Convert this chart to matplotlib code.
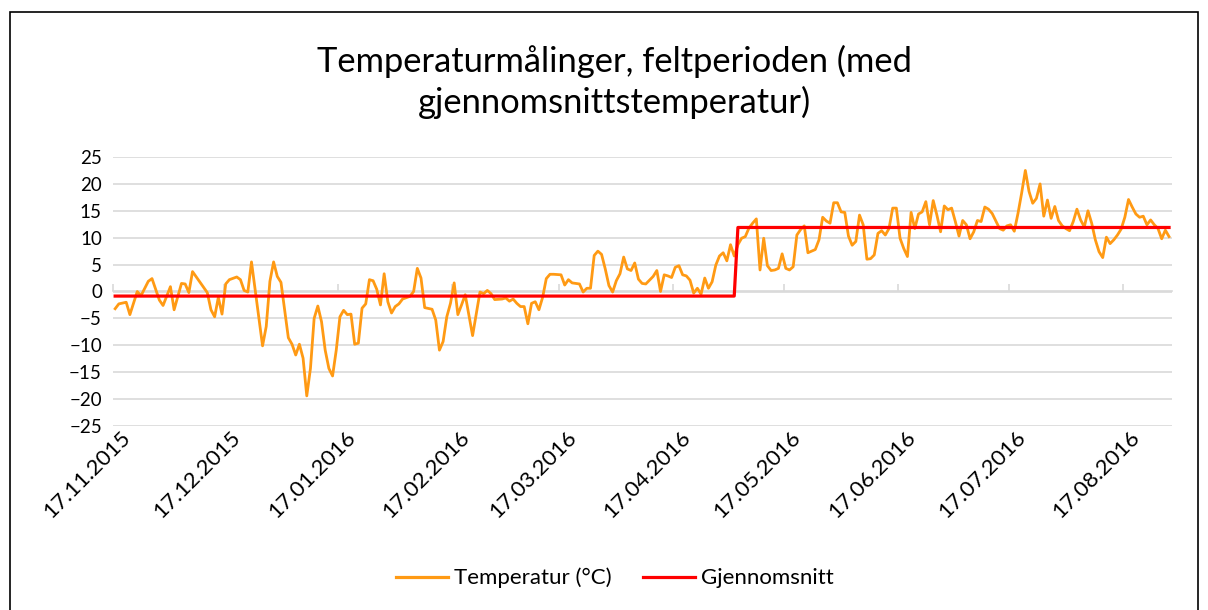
import matplotlib
matplotlib.use("Agg")
import matplotlib.pyplot as plt
import matplotlib.dates as mdates
from matplotlib.patches import Rectangle
from matplotlib.lines import Line2D
from matplotlib.transforms import ScaledTranslation
import pandas as pd
import numpy as np

plt.rcParams['font.family'] = ['Lato', 'DejaVu Sans']

start = pd.Timestamp('2015-11-17')

# day offsets from 17.11.2015 and temperature readings (vertices)
days = [0, 1, 3, 4, 6, 7, 9, 10, 12, 13, 15, 16, 18, 19, 20, 21, 24, 25, 26, 27,
        28, 29, 30, 31, 33, 34, 35, 36, 37, 40, 41, 42, 43, 44, 45, 47, 48, 49, 50, 51,
        52, 53, 54, 55, 56, 57, 58, 59, 60, 61, 62, 63, 64, 65, 66, 67, 68, 69, 70, 71,
        72, 73, 74, 75, 76, 77, 78, 80, 81, 82, 83, 84, 86, 87, 88, 89, 90, 91, 92, 93,
        94, 95, 97, 99, 100, 101, 102, 103, 105, 106, 107, 108, 109, 110, 111, 112, 113, 114, 115, 116,
        117, 118, 119, 121, 122, 123, 124, 126, 127, 128, 129, 130, 131, 132, 133, 134, 135, 136, 137, 138,
        139, 140, 141, 142, 143, 144, 146, 147, 148, 149, 150, 151, 152, 153, 154, 155, 156, 157, 158, 159,
        160, 161, 162, 163, 164, 165, 166, 167, 168, 169, 170, 171, 172, 173, 174, 175, 176, 177, 178, 179,
        180, 181, 182, 183, 184, 185, 186, 187, 188, 189, 190, 191, 192, 193, 194, 195, 196, 197, 198, 199,
        200, 201, 202, 203, 204, 205, 206, 207, 208, 209, 210, 211, 212, 213, 214, 215, 216, 217, 218, 219,
        220, 221, 222, 223, 224, 225, 226, 227, 228, 229, 230, 231, 232, 233, 234, 235, 236, 237, 238, 240,
        241, 242, 243, 244, 245, 246, 247, 248, 249, 250, 251, 252, 253, 254, 255, 256, 257, 258, 259, 260,
        261, 262, 263, 264, 265, 266, 267, 268, 269, 270, 271, 272, 273, 274, 275, 276, 277, 278, 279, 280,
        281, 282, 283, 284, 285, 286]
temps = [-3.2, -2.3, -2.0, -4.3, 0.0, -0.8, 1.9, 2.4, -1.6, -2.6, 0.9, -3.4, 1.5, 1.4, -0.2, 3.7, 0.8, -0.2, -3.4, -4.7,
         -1.1, -4.2, 1.4, 2.2, 2.7, 2.2, 0.2, -0.1, 5.5, -10.1, -6.5, 1.9, 5.5, 2.8, 1.7, -8.6, -9.8, -11.8, -9.8, -12.4,
         -19.4, -14.3, -5.0, -2.7, -5.6, -10.9, -14.3, -15.7, -10.9, -4.7, -3.5, -4.3, -4.2, -9.8, -9.6, -3.1, -2.3, 2.2, 2.0, 0.4,
         -2.5, 3.3, -1.9, -4.0, -2.8, -2.3, -1.4, -0.9, 0.0, 4.3, 2.5, -3.0, -3.3, -5.3, -10.9, -9.3, -4.7, -2.2, 1.6, -4.3,
         -2.5, -0.6, -8.2, -0.1, -0.4, 0.2, -0.4, -1.5, -1.4, -1.2, -1.8, -1.4, -2.2, -2.8, -2.8, -6.0, -2.2, -1.9, -3.4, -1.1,
         2.4, 3.2, 3.2, 3.1, 1.2, 2.2, 1.6, 1.4, -0.1, 0.6, 0.6, 6.7, 7.5, 6.9, 4.2, 1.1, -0.1, 2.0, 3.3, 6.4,
         4.2, 3.9, 5.3, 2.3, 1.5, 1.4, 2.8, 3.9, 0.0, 3.1, 2.9, 2.6, 4.5, 4.8, 3.1, 2.9, 2.1, -0.3, 0.6, -0.5,
         2.5, 0.6, 1.8, 4.9, 6.6, 7.2, 5.7, 8.7, 6.6, 8.7, 9.9, 10.2, 11.8, 12.7, 13.5, 4.0, 9.9, 4.8, 3.9, 4.0,
         4.3, 7.0, 4.3, 4.0, 4.6, 10.5, 11.5, 12.2, 7.2, 7.5, 7.8, 9.6, 13.8, 13.1, 12.7, 16.5, 16.5, 14.8, 14.7, 10.3,
         8.6, 9.3, 14.2, 12.4, 6.0, 6.1, 6.8, 10.8, 11.3, 10.5, 11.7, 15.5, 15.5, 9.9, 8.0, 6.5, 14.7, 11.7, 14.4, 14.8,
         16.7, 12.4, 16.9, 14.2, 11.1, 15.9, 15.2, 15.5, 13.0, 10.3, 13.2, 12.4, 9.8, 11.1, 13.2, 13.0, 15.7, 15.3, 14.5, 11.7,
         11.4, 12.2, 12.4, 11.2, 14.5, 18.3, 22.5, 18.6, 16.4, 17.3, 20.0, 14.0, 17.0, 13.6, 15.8, 13.2, 12.2, 11.7, 11.3, 13.0,
         15.3, 13.3, 12.0, 15.0, 12.7, 9.6, 7.4, 6.3, 10.1, 8.9, 9.6, 10.5, 11.6, 13.8, 17.1, 15.7, 14.4, 13.8, 14.0, 12.4,
         13.3, 12.4, 11.7, 9.8, 11.4, 10.2]

# average temperature per period (first/last day offset, mean)
avg_start = [0, 169]
avg_end = [168, 286]
avg_value = [-0.85, 11.9]

tick_dates = pd.date_range('2015-11-17', periods=10, freq=pd.DateOffset(months=1))

orange = '#FF9A14'
red = '#FF0000'
grid = '#D9D9D9'

half = pd.Timedelta(hours=12)
t_dates = start + pd.to_timedelta(days, unit='D') + half
a_days = []
a_vals = []
for s, e, v in zip(avg_start, avg_end, avg_value):
    a_days += [s, e]
    a_vals += [v, v]
a_dates = start + pd.to_timedelta(a_days, unit='D') + half

fig = plt.figure(figsize=(12.08, 6.10), dpi=100)
ax = fig.add_axes([113 / 1208, 1 - 426 / 610, (1172 - 113) / 1208, (426 - 157) / 610])

ax.plot(t_dates, temps, color=orange, lw=2.0, zorder=3)
ax.plot(a_dates, a_vals, color=red, lw=2.3, zorder=4)

ax.set_ylim(-25, 25)
ax.set_yticks(np.arange(-25, 26, 5))
ax.set_xlim(start - pd.Timedelta(hours=2), start + pd.Timedelta(days=287.3))
ax.yaxis.grid(True, color=grid, lw=1.2)
ax.set_axisbelow(True)
for s in ax.spines.values():
    s.set_visible(False)
ax.tick_params(axis='y', length=0, labelsize=13.5, pad=8)

ax.set_xticks(tick_dates)
ax.xaxis.set_major_formatter(mdates.DateFormatter('%d.%m.%Y'))
ax.tick_params(axis='x', length=0, labelsize=16, pad=6)
for lab in ax.get_xticklabels():
    lab.set_rotation(45)
    lab.set_ha('right')
    lab.set_va('center')
    lab.set_rotation_mode('anchor')
    lab.set_transform(lab.get_transform() + ScaledTranslation(10 / 72, 0, fig.dpi_scale_trans))

# horizontal axis line at zero with tick marks
sec = ax.secondary_xaxis(0.5)
sec.set_xticks(tick_dates)
sec.tick_params(axis='x', direction='out', length=5, width=1.2, color=grid, labelbottom=False)
sec.xaxis.set_major_formatter(plt.NullFormatter())
for s in sec.spines.values():
    s.set_visible(False)
sec.spines['bottom'].set_visible(True)
sec.spines['bottom'].set_color(grid)
sec.spines['bottom'].set_linewidth(1.2)

fig.text(0.509, 1 - 82 / 610, 'Temperaturmålinger, feltperioden (med\ngjennomsnittstemperatur)',
         ha='center', va='center', fontsize=24.8, linespacing=1.3)

handles = [Line2D([], [], color=orange, lw=2.3), Line2D([], [], color=red, lw=2.3)]
fig.legend(handles, ['Temperatur (°C)', 'Gjennomsnitt'], loc='center', bbox_to_anchor=(0.509, 1 - 578 / 610),
           ncol=2, frameon=False, fontsize=16, handlelength=2.35, handletextpad=0.28, columnspacing=1.4)

fig.patches.append(Rectangle((10 / 1208, -0.02), (1198 - 10) / 1208, (610 - 12) / 610 + 0.02,
                             transform=fig.transFigure, fill=False, ec='black', lw=1.2))

fig.savefig('out.png', dpi=100)
